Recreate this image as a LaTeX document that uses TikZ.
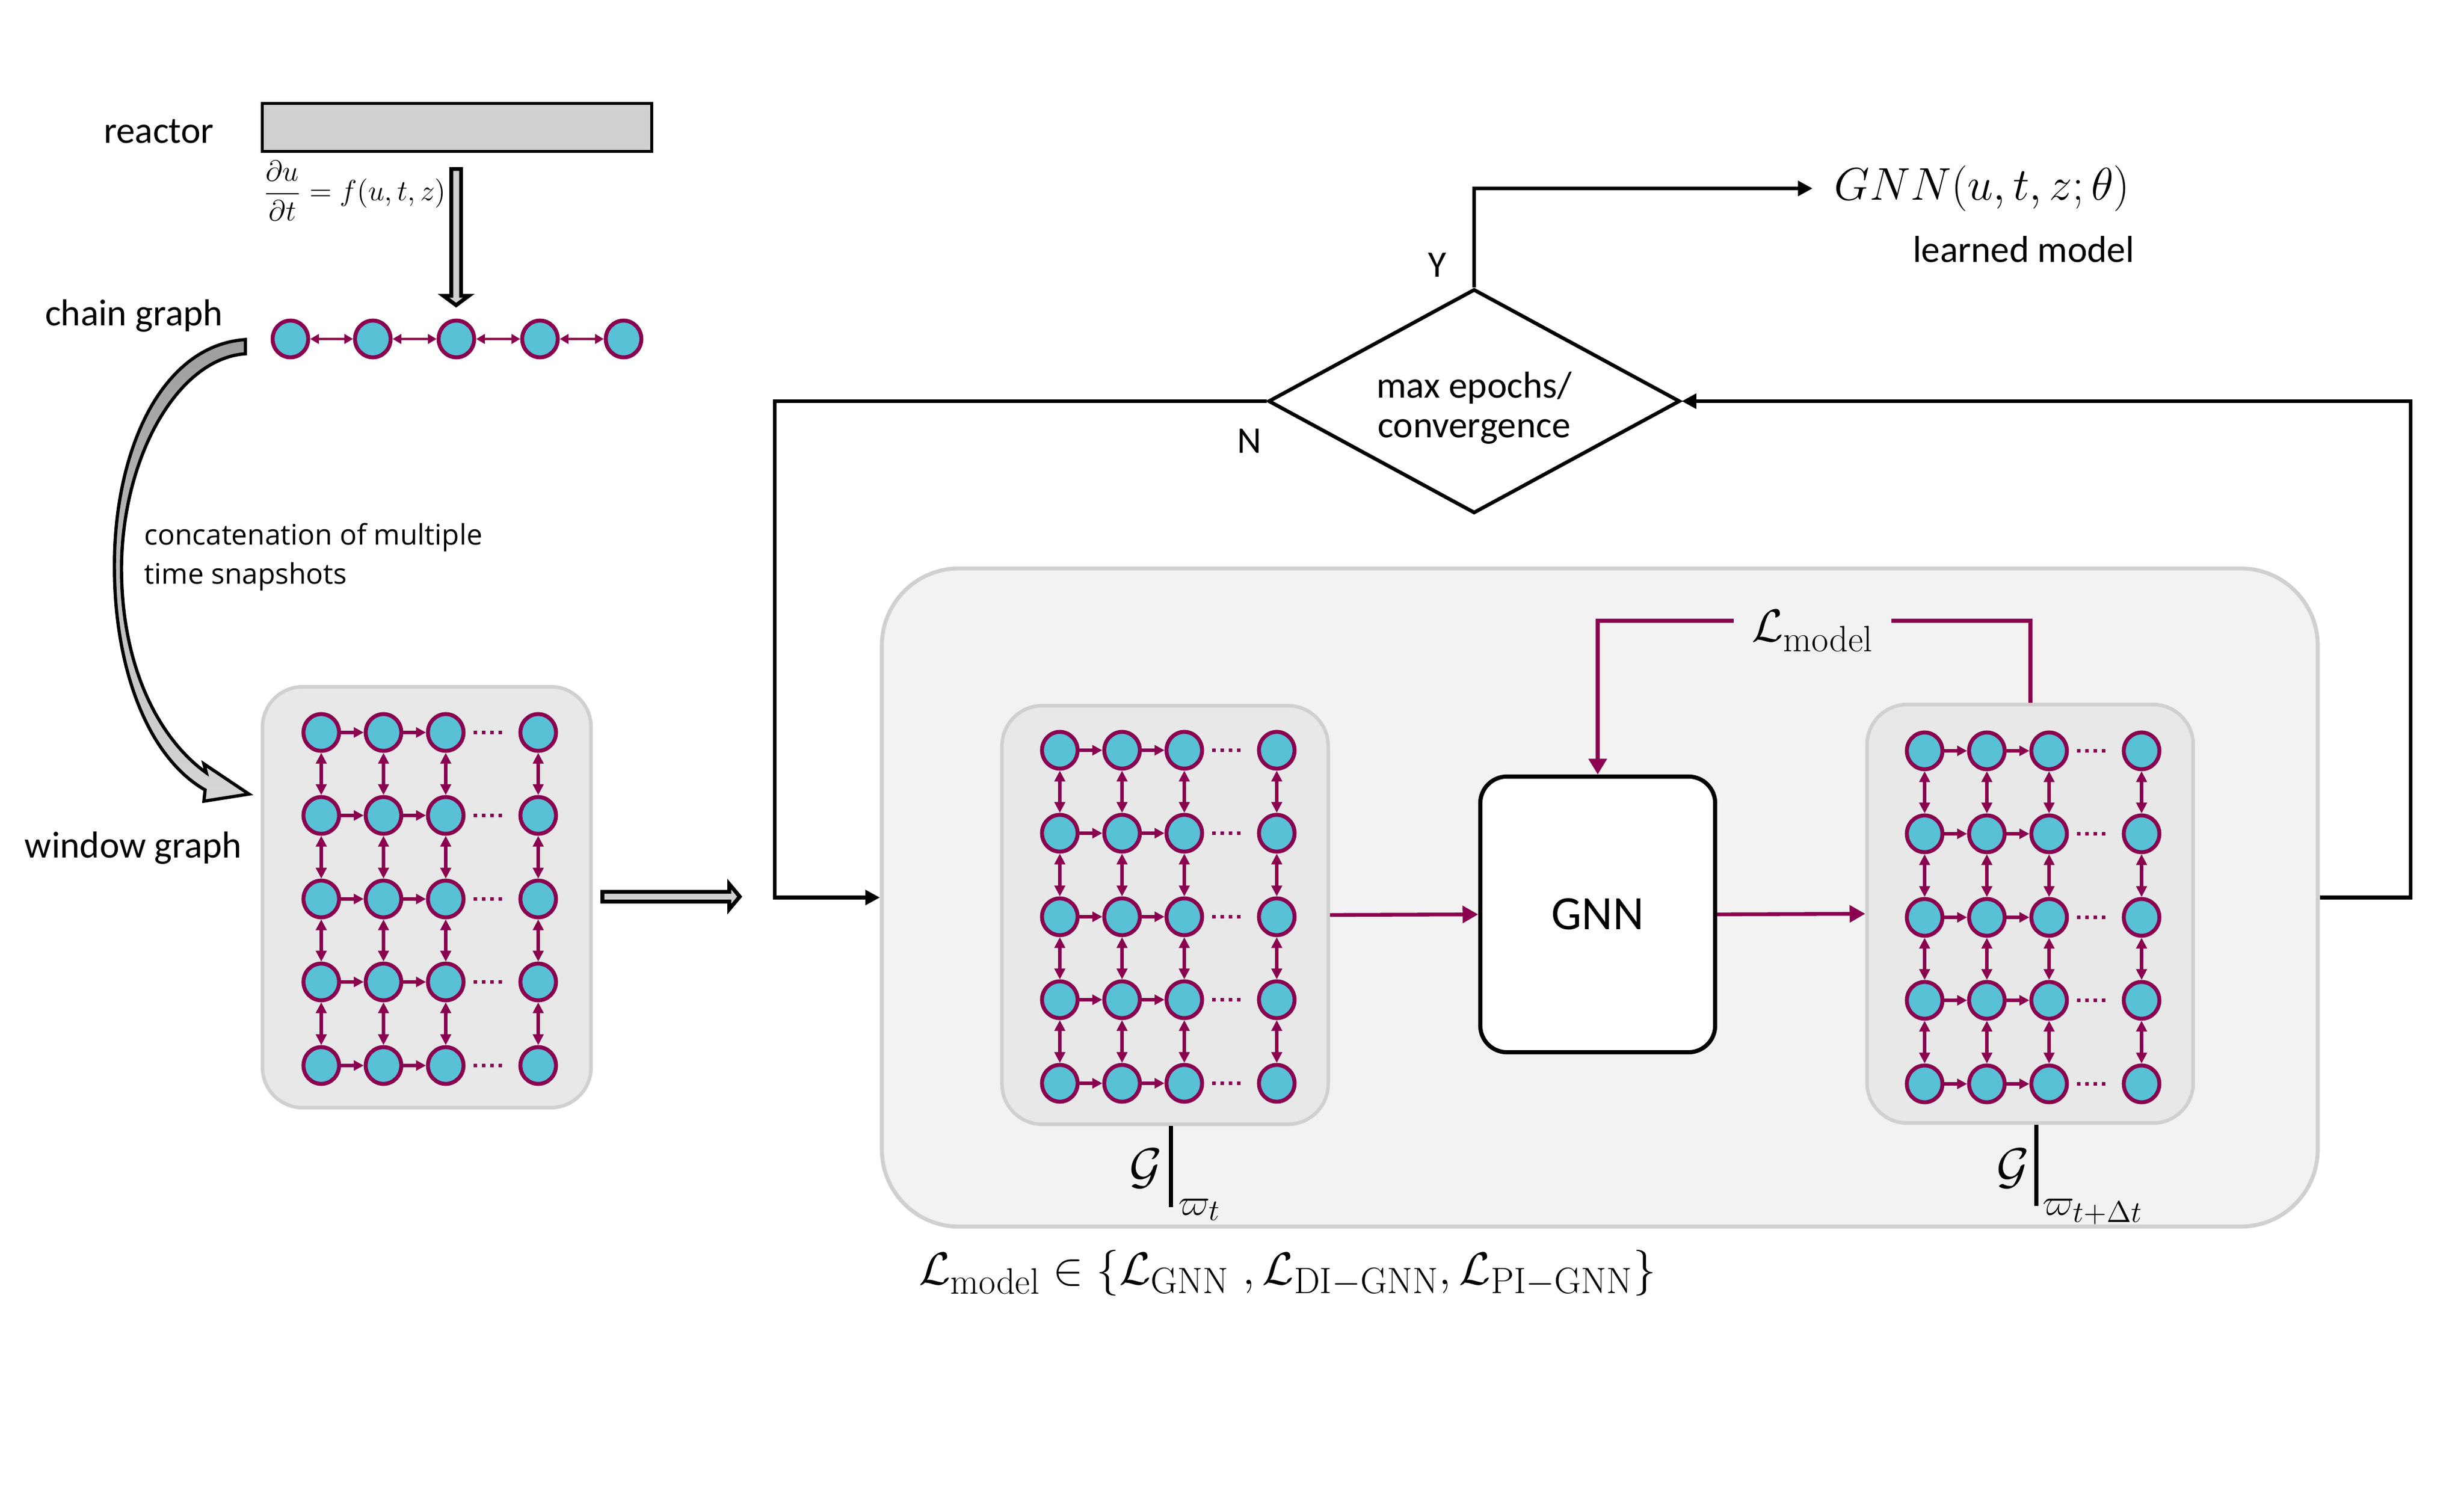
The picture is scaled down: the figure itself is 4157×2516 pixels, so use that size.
\RequirePackage{fix-cm}
\documentclass[tikz,border=0pt]{standalone}
\usepackage{amsmath}
\usepackage[no-math]{fontspec}
\setmainfont{Carlito}
\newfontfamily\osans{Open Sans}
\usetikzlibrary{arrows.meta,shapes.geometric,calc}
\def\defaultscriptratio{.8}
\definecolor{nodefill}{HTML}{58C1D6}
\definecolor{purp}{HTML}{8A004F}
\definecolor{boxline}{HTML}{D0D0D0}
\definecolor{winfill}{HTML}{E8E8E8}
\definecolor{bigfill}{HTML}{F2F2F2}
\definecolor{reacfill}{HTML}{D0D0D0}
\newcommand\lblfont{\fontsize{18}{19}\selectfont}
\newcommand\wgrid[3]{%
  \foreach \c/\dx in {1/0,2/105,3/210,4/366}{%
    \foreach \r/\dy in {1/0,2/140,3/281,4/421,5/562}{%
      \node[gn] (#1-\c-\r) at (#2+\dx,#3+\dy) {};
    }%
  }%
  \foreach \r in {1,...,5}{%
    \draw[hA] (#1-1-\r) -- (#1-2-\r);
    \draw[hA] (#1-2-\r) -- (#1-3-\r);
    \draw[dotA] (#1-3-\r) -- (#1-4-\r);
  }%
  \foreach \c in {1,...,4}{%
    \foreach \r/\rn in {1/2,2/3,3/4,4/5}{%
      \draw[vA] (#1-\c-\r) -- (#1-\c-\rn);
    }%
  }%
}
\begin{document}
\begin{tikzpicture}[x=0.01cm,y=-0.01cm,
  gn/.style={ellipse, draw=purp, fill=nodefill, line width=1.9pt, minimum width=0.6cm, minimum height=0.62cm, inner sep=0pt},
  hA/.style={purp, line width=1.7pt, -{Triangle[length=4.8pt,width=4.8pt]}},
  vA/.style={purp, line width=1.6pt, {Triangle[length=5.2pt,width=5pt]}-{Triangle[length=5.2pt,width=5pt]}},
  cA/.style={purp, line width=1.3pt, {Triangle[length=4.2pt,width=4.6pt]}-{Triangle[length=4.2pt,width=4.6pt]}},
  dotA/.style={purp, line width=1.56pt, dash pattern=on 1.56pt off 2.42pt, shorten <=0.14cm, shorten >=0.2cm},
  gbox/.style={draw=boxline, line width=1.7pt, fill=winfill, rounded corners=0.68cm, minimum width=5.5cm, minimum height=7.06cm, inner sep=0pt},
  pA/.style={purp, line width=1.8pt, -{Triangle[length=7.5pt,width=8pt]}},
  blk/.style={black, line width=1.75pt},
  blkA/.style={black, line width=1.75pt, -{Triangle[length=7pt,width=7pt]}},
  hollow/.style={draw=black, fill=reacfill, line width=1.85pt, line join=miter},
  lbl/.style={font=\lblfont, inner sep=0pt},
  bigmath/.style={font=\fontsize{22}{26}\selectfont}
]
\useasboundingbox (0,0) rectangle (4157,2516);

% ---------- reactor ----------
\node[draw, line width=1.55pt, fill=reacfill, minimum width=6.565cm, minimum height=0.805cm, inner sep=0pt] (reactor) at (771,215) {};
\node[lbl, anchor=base] (reactorlbl) at (268,242) {reactor};
\node[anchor=west, inner sep=0pt, font=\fontsize{14}{17}\selectfont] (pde) at (444,322) {$\dfrac{\partial u}{\partial t}=f(u,t,z)$};
\draw[hollow] (761.25,285.25) -- (777.75,285.25) -- (777.75,499.25) -- (790.75,499.25) -- (769.5,515) -- (748.25,499.25) -- (761.25,499.25) -- cycle;

% ---------- chain graph ----------
\node[lbl, anchor=base] (chainlbl) at (226,550) {chain graph};
\foreach \i/\x in {1/490,2/629,3/770,4/911,5/1052}{\node[gn] (c\i) at (\x,572) {};}
\foreach \i/\j in {1/2,2/3,3/4,4/5}{\draw[cA] (c\i) -- (c\j);}

% ---------- curved arrow ----------
\draw[line width=1.55pt, line join=miter, top color=black!38, bottom color=black!16]
  (414,573) -- (414,597)
  .. controls (300,605) and (207,770) .. (205,955)
  .. controls (204,1130) and (272,1250) .. (348,1304)
  -- (344,1289) -- (420,1340) -- (344,1352) -- (346,1333)
  .. controls (250,1278) and (193,1130) .. (193,955)
  .. controls (193,760) and (272,583) .. (414,573) -- cycle;
\node[anchor=west, align=left, inner sep=0pt, font=\osans\fontsize{13.6}{19}\selectfont] (concat) at (243,940) {concatenation of multiple\\time snapshots};

% ---------- window graph ----------
\node[lbl, anchor=base] (winlbl) at (225,1447) {window graph};
\node[gbox, minimum width=5.54cm, minimum height=7.1cm] (wbox) at (720,1514) {};
\wgrid{w}{542}{1236}
\draw[hollow] (1016.25,1504.75) -- (1230.25,1504.75) -- (1230.25,1491.75) -- (1248,1513) -- (1230.25,1534.25) -- (1230.25,1521.25) -- (1016.25,1521.25) -- cycle;

% ---------- big box ----------
\node[draw=boxline, line width=1.9pt, fill=bigfill, rounded corners=1.3cm, minimum width=24.21cm, minimum height=11.1cm, inner sep=0pt] (big) at (2699,1514.5) {};
\node[gbox] (linner) at (1965.6,1544) {};
\node[gbox] (rinner) at (3425,1542) {};
\wgrid{l}{1788}{1266}
\wgrid{r}{3247}{1267}
\node[draw, line width=2pt, fill=white, rounded corners=0.45cm, minimum width=3.96cm, minimum height=4.65cm, inner sep=0pt, font=\fontsize{23}{27}\selectfont] (gnn) at (2695.5,1543) {GNN};
\draw[pA] (linner.east) -- (gnn.west);
\draw[pA] (gnn.east) -- (rinner.west);
\draw[purp, line width=2pt, -{Triangle[length=7.5pt,width=8.5pt]}] (rinner.north) |- ($(gnn.north)+(0,-259)$) -- (gnn.north);
\node[fill=bigfill, anchor=base, inner xsep=0.3cm, inner ysep=3pt, bigmath] (lmodel) at (3058,1083) {$\mathcal{L}_{\mathrm{model}}$};

% G labels
\node[inner sep=0pt, font=\fontsize{24}{28}\selectfont] (gleft) at (1933,1972) {$\mathcal{G}$};
\draw[line width=2pt] ($(linner.south)+(10,0)$) -- ++(0,137);
\node[anchor=base west, inner sep=0pt, font=\fontsize{18}{22}\selectfont] (wleft) at (1988,2050) {$\varpi_t$};
\node[inner sep=0pt, font=\fontsize{24}{28}\selectfont] (gright) at (3396,1972) {$\mathcal{G}$};
\draw[line width=2pt] ($(rinner.south)+(10,0)$) -- ++(0,137);
\node[anchor=base west, inner sep=0pt, font=\fontsize{18}{22}\selectfont] (wright) at (3446,2050) {$\varpi_{t+\Delta t}$};

% loss set
\node[anchor=base, inner sep=0pt, bigmath] (lset) at (2172,2167) {$\mathcal{L}_{\mathrm{model}}\in\{\mathcal{L}_{\mathrm{GNN}}\;,\mathcal{L}_{\mathrm{DI-GNN}},\mathcal{L}_{\mathrm{PI-GNN}}\}$};

% ---------- decision ----------
\node[diamond, draw, line width=1.75pt, minimum width=6.94cm, minimum height=3.78cm, shape aspect=1.83, inner sep=0pt, font=\fontsize{18}{19}\selectfont] (dia) at (2487,677)
  {\raisebox{-0.15cm}[\height][\depth]{\begin{tabular}{@{}c@{}}max epochs/\\convergence\end{tabular}}};
\node[lbl, anchor=base] (ylbl) at (2425,468) {Y};
\node[lbl, anchor=base] (nlbl) at (2108,765) {N};
\node[anchor=west, inner xsep=0.36cm, inner ysep=0pt, bigmath] (gnnout) at (3058,318) {$GNN(u,t,z;\theta)$};
\node[lbl, anchor=base] (learned) at (3414,443) {learned model};

\draw[blkA] (dia.north) |- (gnnout.west);
\draw[blkA] (dia.west) -- ++(-830,0) |- (big.west);
\draw[blkA] (big.east) -- ++(153,0) |- (dia.east);
\end{tikzpicture}
\end{document}
